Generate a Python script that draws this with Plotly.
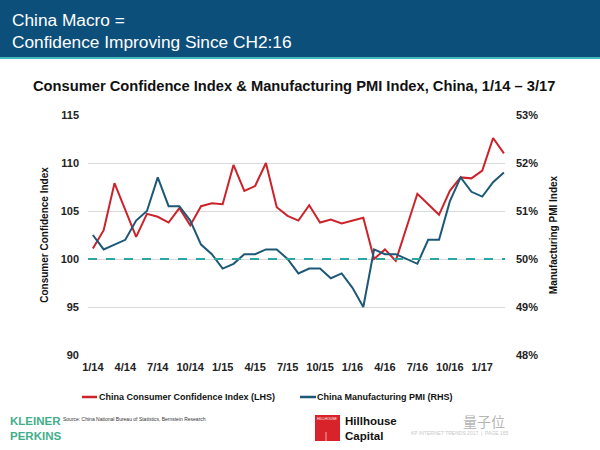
import plotly.graph_objects as go

months = ["1/14","2/14","3/14","4/14","5/14","6/14","7/14","8/14","9/14","10/14","11/14","12/14",
          "1/15","2/15","3/15","4/15","5/15","6/15","7/15","8/15","9/15","10/15","11/15","12/15",
          "1/16","2/16","3/16","4/16","5/16","6/16","7/16","8/16","9/16","10/16","11/16","12/16",
          "1/17","2/17","3/17"]
tick_labels = ["1/14","4/14","7/14","10/14","1/15","4/15","7/15","10/15","1/16","4/16","7/16","10/16","1/17"]
consumer_confidence = [101.1,103.0,107.9,105.0,102.3,104.7,104.4,103.8,105.3,103.5,105.5,105.8,
                       105.7,109.8,107.1,107.6,110.0,105.4,104.5,104.0,105.6,103.8,104.1,103.7,
                       104.0,104.3,100.0,101.0,99.8,103.2,106.8,105.7,104.6,107.1,108.5,108.4,
                       109.2,112.6,111.0]
manufacturing_pmi = [50.5,50.2,50.3,50.4,50.8,51.0,51.7,51.1,51.1,50.8,50.3,50.1,
                     49.8,49.9,50.1,50.1,50.2,50.2,50.0,49.7,49.8,49.8,49.6,49.7,
                     49.4,49.0,50.2,50.1,50.1,50.0,49.9,50.4,50.4,51.2,51.7,51.4,
                     51.3,51.6,51.8]
series_names = ["China Consumer Confidence Index (LHS)", "China Manufacturing PMI (RHS)"]
lhs_ticks = [90, 95, 100, 105, 110, 115]
rhs_ticks = [48, 49, 50, 51, 52, 53]

W, H = 600, 450
L, R, T, B = 88, 505, 115, 355

def px(x):
    return (x - L) / (R - L)

def py(y):
    return (B - y) / (B - T)

RED = "#cc2229"
BLUE = "#1d5877"
TEAL = "#2aa7a5"
FONT = "Liberation Sans"

fig = go.Figure()
fig.add_trace(go.Scatter(x=months, y=consumer_confidence, mode="lines", name=series_names[0],
                         line=dict(color=RED, width=2)))
fig.add_trace(go.Scatter(x=months, y=manufacturing_pmi, mode="lines", yaxis="y2",
                         name=series_names[1], line=dict(color=BLUE, width=2)))

shapes = [
    dict(type="rect", xref="paper", yref="paper", x0=px(0), x1=px(600), y0=py(57), y1=py(0),
         fillcolor="#0d4f7b", line=dict(width=0), layer="below"),
    dict(type="line", xref="paper", yref="paper", x0=px(0), x1=px(600), y0=py(58), y1=py(58),
         line=dict(color="#44b9c0", width=2)),
    dict(type="line", xref="paper", yref="y", x0=0, x1=1, y0=100, y1=100,
         line=dict(color=TEAL, width=2, dash="dash")),
    # legend samples
    dict(type="line", xref="paper", yref="paper", x0=px(82), x1=px(97), y0=py(397), y1=py(397),
         line=dict(color=RED, width=2.5)),
    dict(type="line", xref="paper", yref="paper", x0=px(300), x1=px(316), y0=py(397), y1=py(397),
         line=dict(color=BLUE, width=2.5)),
    # hillhouse logo
    dict(type="rect", xref="paper", yref="paper", x0=px(315), x1=px(340), y0=py(441), y1=py(415),
         fillcolor="#d8232a", line=dict(width=0)),
    dict(type="line", xref="paper", yref="paper", x0=px(326), x1=px(326), y0=py(441), y1=py(432),
         line=dict(color="white", width=0.6)),
]

annotations = [
    dict(text="China Macro =<br>Confidence Improving Since CH2:16", xref="paper", yref="paper",
         x=px(10), y=py(8), xanchor="left", yanchor="top", align="left", showarrow=False,
         font=dict(family=FONT, size=17.3, color="white")),
    dict(text="<b>Consumer Confidence Index & Manufacturing PMI Index, China, 1/14 – 3/17</b>",
         xref="paper", yref="paper", x=px(294), y=py(86), xanchor="center", yanchor="middle",
         showarrow=False, font=dict(family=FONT, size=14.7, color="#111111")),
    dict(text="<b>" + series_names[0] + "</b>", xref="paper", yref="paper", x=px(97), y=py(397),
         xanchor="left", yanchor="middle", showarrow=False,
         font=dict(family=FONT, size=9, color="#111111")),
    dict(text="<b>" + series_names[1] + "</b>", xref="paper", yref="paper", x=px(315), y=py(397),
         xanchor="left", yanchor="middle", showarrow=False,
         font=dict(family=FONT, size=9, color="#111111")),
    dict(text="<b>KLEINER<br>PERKINS</b>", xref="paper", yref="paper", x=px(8), y=py(428),
         xanchor="left", yanchor="middle", align="left", showarrow=False,
         font=dict(family=FONT, size=11.5, color="#3fae8a")),
    dict(text="Source: China National Bureau of Statistics, Bernstein Research", xref="paper",
         yref="paper", x=px(61), y=py(419), xanchor="left", yanchor="middle", showarrow=False,
         font=dict(family=FONT, size=5, color="#333333")),
    dict(text="HILLHOUSE", xref="paper", yref="paper", x=px(327.5), y=py(419), xanchor="center",
         yanchor="middle", showarrow=False, font=dict(family=FONT, size=3.5, color="white")),
    dict(text="<b>Hillhouse<br>Capital</b>", xref="paper", yref="paper", x=px(343), y=py(428),
         xanchor="left", yanchor="middle", align="left", showarrow=False,
         font=dict(family=FONT, size=11.5, color="#111111")),
    dict(text="KP INTERNET TRENDS 2017  |  PAGE 165", xref="paper", yref="paper", x=px(511),
         y=py(433), xanchor="right", yanchor="middle", showarrow=False,
         font=dict(family=FONT, size=5, color="#c8c8c8")),
    dict(text="量子位", xref="paper", yref="paper", x=px(507), y=py(421), xanchor="right",
         yanchor="middle", showarrow=False,
         font=dict(family="Noto Sans CJK SC", size=14, color="#b5b5b5")),
]

fig.update_layout(
    width=W, height=H,
    margin=dict(l=L, r=W - R, t=T, b=H - B, pad=0, autoexpand=False),
    paper_bgcolor="white", plot_bgcolor="white",
    font=dict(family=FONT, color="#222222"),
    showlegend=False,
    xaxis=dict(type="category", range=[-0.45, 38.1], tickmode="array", tickvals=tick_labels,
               ticktext=["<b>%s</b>" % t for t in tick_labels], showgrid=False, zeroline=False,
               showline=False, ticks="", tickfont=dict(size=11, color="#222222"), ticklabelstandoff=4),
    yaxis=dict(range=[90, 115], tickvals=lhs_ticks, ticktext=["<b>%d</b>" % v for v in lhs_ticks],
               showgrid=True, gridcolor="#d9d9d9", gridwidth=1, zeroline=False, showline=False,
               tickfont=dict(size=11, color="#222222"), ticklabelstandoff=8,
               title=dict(text="<b>Consumer Confidence Index</b>", font=dict(size=10, color="#111111"),
                          standoff=10)),
    yaxis2=dict(range=[48, 53], overlaying="y", side="right", tickvals=rhs_ticks,
                ticktext=["<b>%d%%</b>" % v for v in rhs_ticks], showgrid=False, zeroline=False,
                showline=False, tickfont=dict(size=11, color="#222222"), ticklabelstandoff=10,
                title=dict(text="<b>Manufacturing PMI Index</b>", font=dict(size=10, color="#111111"),
                           standoff=12)),
    shapes=shapes,
    annotations=annotations,
)

fig.write_html("out.html", config={"displayModeBar": False},
               post_script="document.body.style.margin='0';document.body.style.padding='0';")
